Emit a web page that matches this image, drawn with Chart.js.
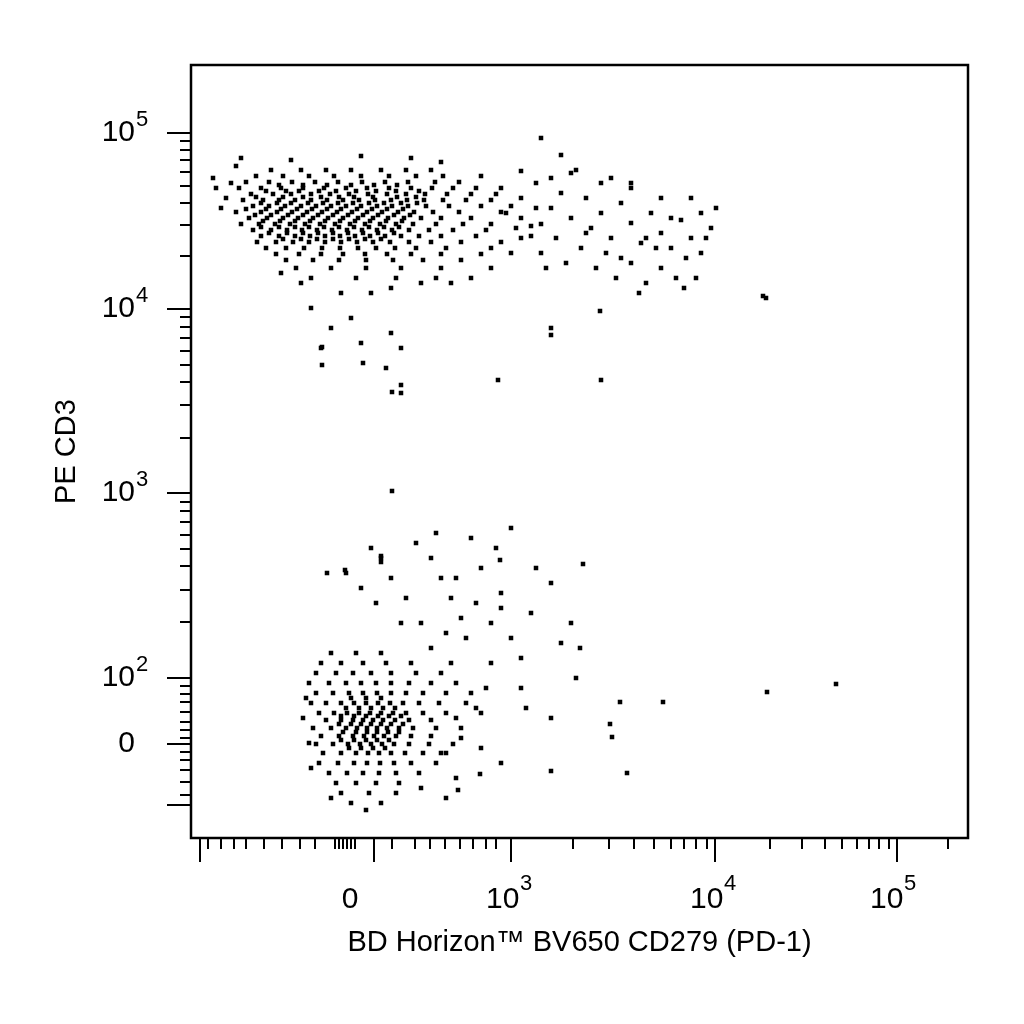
<!DOCTYPE html>
<html><head><meta charset="utf-8">
<script src="https://cdn.jsdelivr.net/npm/chart.js@4"></script>
<style>html,body{margin:0;background:#fff}#w{width:1024px;height:1024px}</style>
</head><body><div id="w"><canvas id="c"></canvas></div>
<script>
// channel units (biexponential display scale), x: 0..777, y: 0..773
const xLabelTicks = [{v:159,l:'0',e:''},{v:320,l:'10',e:'3'},{v:524,l:'10',e:'4'},{v:704,l:'10',e:'5'}];
const yLabelTicks = [{v:94,l:'0',e:''},{v:160,l:'10',e:'2'},{v:345,l:'10',e:'3'},{v:529,l:'10',e:'4'},{v:705,l:'10',e:'5'}];
const xMajor = [9,183,320,524,706];
const xMinor = [17,30,43,55,73,91,109,124,144,148,152,156,160,164,201,224,239,254,269,282,295,305,382,418,443,463,480,493,505,516,579,611,634,651,666,678,688,698,757];
const yMajor = [33,94,160,345,529,705];
const yMinor = [43,56,68,78,86,100,108,116,126,136,144,152,216,248,272,289,303,316,327,336,400,433,456,473,487,500,511,521,582,613,635,652,666,678,688,697];

const upperRows = [
 [668,[80,110,135,160,190,215,240]],
 [662,[65,92,118,143,170,198,225,252]],
 [656,[55,78,101,124,147,171,194,217,244,268]],
 [650,[48,70,90,112,133,155,176,198,220,241,262,285]],
 [644,[60,82,100,120,139,158,177,196,215,234,256,280,305]],
 [638,[52,72,88,104,120,136,152,168,184,200,216,233,252,275,300]],
 [632,[62,78,94,110,125,140,155,170,186,201,217,235,258,290,320]],
 [626,[45,70,86,101,116,131,146,161,176,191,207,223,242,268,310]],
 [620,[58,76,92,107,122,137,152,167,182,197,213,230,250,280,330]],
 [614,[50,68,84,99,114,129,144,159,174,189,205,222,245,272,300,350]],
 [608,[62,80,96,111,126,141,156,171,186,201,218,238,262,295]],
 [602,[70,88,104,119,134,149,164,179,194,210,228,250,285,340]],
 [596,[66,85,102,118,134,150,166,182,199,218,240,270,310]],
 [590,[75,95,113,131,149,167,185,204,225,255,300]],
 [584,[85,108,130,152,174,196,220,250,290]],
 [578,[95,122,148,175,202,232,270]],
 [570,[105,140,175,210,250]],
 [560,[120,165,205,245]]
];
const upperCoreDense = [
 [647,[75,95,108,128,145,165,185,205,228]],[641,[65,92,112,130,148,163,182,206,225]],
 [635,[70,86,100,117,132,147,162,178,193,210,226]],[629,[55,75,90,106,121,136,150,166,181,196,212]],
 [623,[64,80,97,112,127,142,157,172,187,203,219]],[617,[72,89,104,119,134,149,164,179,195,211]],
 [611,[70,88,104,118,133,148,163,178,193,208]],[605,[78,96,112,127,142,157,172,187,203]],
 [599,[92,110,126,142,158,174,190]],[653,[88,112,136,160,183,206]]
];
const upperScatter = [[25,650],[35,640],[30,630],[45,672],[50,680],[100,678],[170,682],[220,680],[250,676],[290,662],[310,650],[330,640],[345,655],[360,630],[370,645],[380,620],[395,640],[400,610],[410,625],[420,600],[430,635],[440,615],[450,595],[460,625],[470,605],[480,590],[490,618],[500,600],[510,585],[520,610],[330,600],[350,585],[365,600],[375,575],[390,590],[405,570],[415,585],[425,560],[440,575],[455,555],[470,570],[485,560],[495,580],[505,560],[360,660],[385,668],[410,655],[440,650],[470,640],[350,700],[380,665],[455,600],[340,612],[300,570],[320,585],[280,560],[260,555],[230,555],[200,550],[180,545],[150,545],[110,555],[90,565],[120,530],[160,520],[140,510],[200,505],[210,490],[170,495],[130,490],[195,470],[210,445],[172,475],[360,510],[410,458],[575,540],[330,667],[500,640],[525,630],[515,600],[493,550],[448,545],[440,655],[420,660],[370,683],[201,446],[210,453],[307,458],[360,503],[409,527],[572,542],[201,347],[131,491],[131,473],[22,660],[40,655],[315,625],[325,610],[345,630],[355,570],[395,605],[430,580],[465,590],[480,620],[510,625]];
const lowerRows = [
 [185,[140,165,190]],
 [175,[130,150,172,195,220]],
 [165,[125,145,162,180,200,225,250]],
 [155,[118,138,155,170,185,200,218,240,265]],
 [145,[125,142,158,172,186,200,215,232,255,280]],
 [135,[120,135,150,163,175,187,199,212,228,248,275]],
 [125,[128,143,156,168,179,190,202,215,232,255,290]],
 [118,[135,150,162,172,182,192,204,218,240]],
 [110,[122,140,155,166,176,186,196,208,222,245,270]],
 [102,[130,148,162,173,183,193,205,220,240]],
 [94,[125,142,157,169,180,191,203,218,238,262]],
 [85,[132,150,165,177,188,200,214,232,255]],
 [75,[128,147,163,176,189,203,220,245]],
 [65,[138,156,172,188,205,228]],
 [55,[145,165,185,208]],
 [45,[150,178,205]],
 [35,[160,190]]
];
const lowerCoreDense = [
 [130,[155,168,180,192,204]],[122,[150,163,175,187,198,210]],[114,[148,160,170,180,190,200,212]],
 [106,[152,165,176,186,197,208]],[98,[150,163,175,186,198]],[90,[158,170,182,194]],[140,[160,175,190]]
];
const lowerScatter = [[240,190],[255,205],[270,220],[285,235],[300,215],[310,245],[320,200],[330,180],[340,225],[260,240],[250,260],[290,270],[305,290],[280,300],[320,310],[345,270],[360,255],[370,195],[380,215],[300,175],[295,150],[330,150],[275,200],[230,215],[215,240],[240,280],[200,260],[190,280],[225,295],[210,215],[185,235],[170,250],[155,265],[180,290],[245,305],[265,260],[310,230],[385,160],[335,130],[360,120],[270,100],[290,90],[265,60],[255,40],[310,75],[285,130],[190,282],[190,276],[154,268],[136,265],[392,274],[309,278],[389,190],[429,136],[472,136],[419,114],[421,101],[436,65],[360,67],[576,146],[645,154],[267,48],[289,64],[115,140],[112,120],[118,95],[120,70],[140,40],[175,28],[230,50],[250,85],[265,120],[260,175]];

function rows(r){const o=[];r.forEach(([y,xs])=>xs.forEach(x=>o.push({x,y})));return o;}
const pts = [].concat(rows(upperRows),rows(upperCoreDense),upperScatter.map(([x,y])=>({x,y})),
  rows(lowerRows),rows(lowerCoreDense),lowerScatter.map(([x,y])=>({x,y})));

const FONT='Liberation Sans';
const frame = {id:'frame',afterDraw(c){
  const g=c.ctx,a=c.chartArea,xs=c.scales.x,ys=c.scales.y;
  g.save();g.strokeStyle='#000';g.lineWidth=2.5;g.strokeRect(a.left,a.top,a.right-a.left,a.bottom-a.top);
  g.lineWidth=2;g.beginPath();
  xMajor.forEach(v=>{const p=xs.getPixelForValue(v);g.moveTo(p,a.bottom);g.lineTo(p,a.bottom+24);});
  xMinor.forEach(v=>{const p=xs.getPixelForValue(v);g.moveTo(p,a.bottom);g.lineTo(p,a.bottom+11);});
  yMajor.forEach(v=>{const p=ys.getPixelForValue(v);g.moveTo(a.left,p);g.lineTo(a.left-24,p);});
  yMinor.forEach(v=>{const p=ys.getPixelForValue(v);g.moveTo(a.left,p);g.lineTo(a.left-11,p);});
  g.stroke();
  g.fillStyle='#000';g.font='22px "'+FONT+'"';g.textBaseline='alphabetic';g.textAlign='left';
  xLabelTicks.forEach(t=>{if(!t.e)return;const p=xs.getPixelForValue(t.v);g.fillText(t.e,p+9,a.bottom+52);});
  yLabelTicks.forEach(t=>{if(!t.e)return;const p=ys.getPixelForValue(t.v);g.fillText(t.e,a.left-55,p-7);});
  g.restore();}};

new Chart(document.getElementById('c'),{type:'scatter',
 data:{datasets:[{data:pts,pointStyle:'rect',pointRadius:3.2,backgroundColor:'#000',borderWidth:0}]},
 options:{responsive:true,maintainAspectRatio:false,animation:false,
  layout:{padding:{left:50,right:56,top:65,bottom:64}},
  plugins:{legend:{display:false},tooltip:{enabled:false}},
  scales:{
   x:{type:'linear',min:0,max:777,
    afterFit(s){s.height=122;s.paddingLeft=0;s.paddingRight=0;},
    afterBuildTicks(s){s.ticks=xLabelTicks.map(t=>({value:t.v}));},
    ticks:{padding:36,color:'#000',font:{family:FONT,size:30},callback:v=>{const t=xLabelTicks.find(t=>t.v===v);return t?(t.e?t.l+'  ':t.l):'';}},
    grid:{display:false},border:{display:false},
    title:{display:true,text:'BD Horizon™ BV650 CD279 (PD-1)',color:'#000',font:{family:FONT,size:29},padding:{top:0,bottom:0}}},
   y:{type:'linear',min:0,max:773,
    afterFit(s){s.width=141;s.paddingTop=0;s.paddingBottom=0;},
    afterBuildTicks(s){s.ticks=yLabelTicks.map(t=>({value:t.v}));},
    ticks:{padding:48,color:'#000',font:{family:FONT,size:30},callback:v=>{const t=yLabelTicks.find(t=>t.v===v);return t?t.l:'';}},
    grid:{display:false},border:{display:false},
    title:{display:true,text:'PE CD3',color:'#000',font:{family:FONT,size:29},padding:{top:0,bottom:0}}}
  }},plugins:[frame]});
</script></body></html>
